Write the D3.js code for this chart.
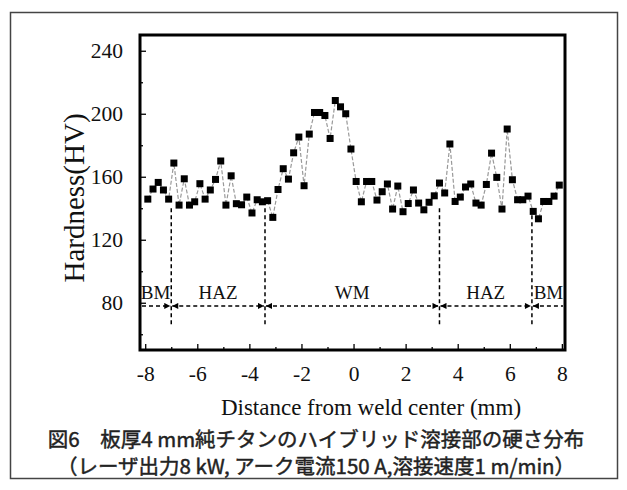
<!DOCTYPE html>
<html><head><meta charset="utf-8">
<script src="https://cdn.jsdelivr.net/npm/d3@7"></script>
<style>
html,body{margin:0;padding:0;background:#fff;}
svg{display:block;}
</style></head>
<body>
<script>
// ---- data ----
const distances = d3.range(80).map(i => +(-7.9 + 0.2 * i).toFixed(2));
const hardness = [
 145.8,152.2,156.4,151.6,145.8,168.7,142.0,158.7,142.0,144.1,
 155.6,145.8,151.6,158.3,170.0,142.0,160.6,142.9,142.2,147.1,
 137.0,145.4,144.1,144.8,134.2,151.9,165.1,158.5,175.2,185.2,
 154.3,187.1,200.8,200.8,198.9,184.3,208.4,204.4,200.0,177.6,
 157.0,144.1,157.0,157.0,145.2,150.5,155.4,139.5,154.1,137.8,
 143.0,151.6,143.3,139.0,143.8,147.9,156.0,149.7,180.8,144.3,
 147.1,153.5,155.4,143.3,142.0,155.1,175.0,159.6,139.5,190.3,
 158.1,145.4,145.4,147.7,138.0,133.3,144.3,144.3,147.7,154.7
];
const xTicks = [-8,-6,-4,-2,0,2,4,6,8];
const xMinorTicks = [-7,-5,-3,-1,1,3,5,7];
const yTicks = [80,120,160,200,240];
const yMinorTicks = [60,100,140,180,220];
const boundaries = [-7.0, -3.4, 3.3, 6.85];
const zoneLabels = ["BM","HAZ","WM","HAZ","BM"];
const xTitle = "Distance from weld center (mm)";
const yTitle = "Hardness(HV)";
const caption1 = "図6　板厚4 mm純チタンのハイブリッド溶接部の硬さ分布";
const caption2 = "（レーザ出力8 kW, アーク電流150 A,溶接速度1 m/min）";

// ---- layout ----
const W = 627, H = 490;
const svg = d3.select("body").append("svg").attr("width", W).attr("height", H);
const serif = "'Liberation Serif','Times New Roman',serif";

const x = d3.scaleLinear().domain([-8.2, 8.12]).range([140, 565]);
const y = d3.scaleLinear().domain([50, 250]).range([350, 35]);

// outer frame
svg.append("rect").attr("x", 10.5).attr("y", 12.5).attr("width", 607).attr("height", 466)
  .attr("fill", "none").attr("stroke", "#444").attr("stroke-width", 1.5);

// data line
svg.append("path")
  .datum(distances.map((d, i) => [d, hardness[i]]))
  .attr("fill", "none").attr("stroke", "#999").attr("stroke-width", 1.2)
  .attr("stroke-dasharray", "4,2")
  .attr("d", d3.line().x(d => x(d[0])).y(d => y(d[1])));

// markers
const ms = 7;
svg.append("g").selectAll("rect").data(hardness).join("rect")
  .attr("x", (d, i) => x(distances[i]) - ms / 2)
  .attr("y", d => y(d) - ms / 2)
  .attr("width", ms).attr("height", ms).attr("fill", "#000");

// vertical dashed boundary lines
svg.append("g").selectAll("line").data(boundaries).join("line")
  .attr("x1", d => x(d)).attr("x2", d => x(d))
  .attr("y1", y(140)).attr("y2", y(65))
  .attr("stroke", "#000").attr("stroke-width", 1.5).attr("stroke-dasharray", "4,3");

// zone arrows
const defs = svg.append("defs");
defs.append("marker").attr("id", "ah").attr("viewBox", "0 0 10 10")
  .attr("refX", 10).attr("refY", 5).attr("markerWidth", 8).attr("markerHeight", 6)
  .attr("markerUnits", "userSpaceOnUse").attr("orient", "auto-start-reverse")
  .append("path").attr("d", "M0,0L10,5L0,10z").attr("fill", "#000");

const edges = [x.domain()[0], ...boundaries, x.domain()[1]];
const arrowY = y(78);
zoneLabels.forEach((lab, i) => {
  const a = edges[i], b = edges[i + 1];
  const line = svg.append("line")
    .attr("x1", x(a) + (i === 0 ? 2 : 1)).attr("x2", x(b) - (i === zoneLabels.length - 1 ? 2 : 1))
    .attr("y1", arrowY).attr("y2", arrowY)
    .attr("stroke", "#000").attr("stroke-width", 1.5).attr("stroke-dasharray", "4,3");
  if (i > 0) line.attr("marker-start", "url(#ah)");
  if (i < zoneLabels.length - 1) line.attr("marker-end", "url(#ah)");
  svg.append("text").attr("x", x((a + b) / 2)).attr("y", y(86) + 6)
    .attr("text-anchor", "middle").attr("font-family", serif).attr("font-size", 19)
    .attr("fill", "#111").text(lab);
});

// axes (inward ticks)
const gx = svg.append("g").attr("transform", `translate(0,${y(50)})`);
gx.append("g")
  .call(d3.axisBottom(x).tickValues(xTicks).tickSize(-6).tickPadding(16)
    .tickFormat(d => d < 0 ? "-" + Math.abs(d) : String(d)));
gx.append("g").call(d3.axisBottom(x).tickValues(xMinorTicks).tickSize(-3).tickFormat(() => ""));
const gy = svg.append("g").attr("transform", `translate(${x(-8.2)},0)`);
gy.append("g").call(d3.axisLeft(y).tickValues(yTicks).tickSize(-6).tickPadding(17));
gy.append("g").call(d3.axisLeft(y).tickValues(yMinorTicks).tickSize(-3).tickFormat(() => ""));
svg.selectAll(".domain").remove();
svg.selectAll(".tick line").attr("stroke", "#000").attr("stroke-width", 1.3);
svg.selectAll(".tick text").attr("font-family", serif).attr("font-size", 21.5).attr("fill", "#111");

// plot box
svg.append("rect").attr("x", x(-8.2)).attr("y", y(250))
  .attr("width", x(8.12) - x(-8.2)).attr("height", y(50) - y(250))
  .attr("fill", "none").attr("stroke", "#000").attr("stroke-width", 3);

// titles
svg.append("text").attr("x", 371).attr("y", 415).attr("text-anchor", "middle")
  .attr("font-family", serif).attr("font-size", 23).attr("fill", "#111").text(xTitle);
svg.append("text").attr("transform", "translate(84,198) rotate(-90)").attr("text-anchor", "middle")
  .attr("font-family", serif).attr("font-size", 29).attr("fill", "#111").text(yTitle);

// caption
const cjk = "'Noto Sans CJK JP','Noto Sans',sans-serif";
[caption1, caption2].forEach((c, i) => {
  svg.append("text").attr("x", 316).attr("y", 447 + i * 27).attr("text-anchor", "middle")
    .attr("font-family", cjk).attr("font-size", 20.5).attr("fill", "#222")
    .attr("stroke", "#222").attr("stroke-width", 0.45).text(c);
});
</script>
</body></html>
